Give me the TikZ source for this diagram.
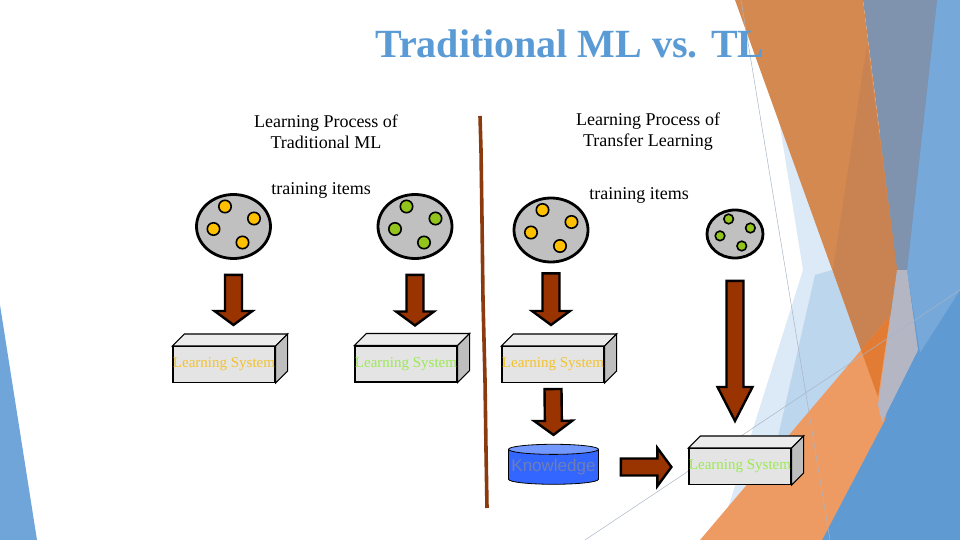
\documentclass[tikz,border=0pt]{standalone}
\usepackage{fontspec}
\setmainfont{Liberation Serif}
\setsansfont{Liberation Sans}
\usetikzlibrary{shapes.geometric,calc,positioning}

\definecolor{titleblue}{HTML}{5B9BD5}
\definecolor{arrowbrown}{HTML}{993300}
\definecolor{platgray}{HTML}{C0C0C0}
\definecolor{yellowdot}{HTML}{FFC000}
\definecolor{greendot}{HTML}{92C41C}
\definecolor{boxfront}{HTML}{E4E4E4}
\definecolor{boxtop}{HTML}{ECECEC}
\definecolor{boxside}{HTML}{BEBEBE}
\definecolor{lsyellow}{HTML}{F2C22E}
\definecolor{lsgreen}{HTML}{9BEA52}
\definecolor{knowbody}{HTML}{3366FF}
\definecolor{knowtop}{HTML}{7399FF}
\definecolor{knowtext}{HTML}{6C7EB6}
\definecolor{divider}{HTML}{8B3A0E}
% slide background facets
\definecolor{facetblue}{HTML}{6FA5D8}
\definecolor{deepblue}{HTML}{5F9AD3}
\definecolor{skyblue}{HTML}{76A8D9}
\definecolor{grayblue}{HTML}{7F93AF}
\definecolor{graystrip}{HTML}{B4B6C4}
\definecolor{darkorange}{HTML}{D3894F}
\definecolor{darkerorange}{HTML}{C98251}
\definecolor{lightorange}{HTML}{EE9B63}
\definecolor{brightorange}{HTML}{E27B33}
\definecolor{paleblue}{HTML}{DCE9F6}
\definecolor{midblue}{HTML}{BCD6EE}
\definecolor{thinline}{HTML}{A9B4C4}

\tikzset{
  fat shaft/.store in=\fatshaft, fat head/.store in=\fathead, fat tip/.store in=\fattip,
  fat shaft=8.5pt, fat head=19pt, fat tip=14pt,
  fatarrow/.style={draw=black, line width=2.4pt, fill=arrowbrown, line join=miter,
    to path={
      ($(\tikztostart)!\fatshaft!90:(\tikztotarget)$)
      -- ($($(\tikztotarget)!\fattip!(\tikztostart)$)!\fatshaft!-90:(\tikztostart)$)
      -- ($($(\tikztotarget)!\fattip!(\tikztostart)$)!\fathead!-90:(\tikztostart)$)
      -- (\tikztotarget)
      -- ($($(\tikztotarget)!\fattip!(\tikztostart)$)!\fathead!90:(\tikztostart)$)
      -- ($($(\tikztotarget)!\fattip!(\tikztostart)$)!\fatshaft!90:(\tikztostart)$)
      -- ($(\tikztostart)!\fatshaft!-90:(\tikztotarget)$)
      -- cycle}},
}

\begin{document}
\begin{tikzpicture}[x=1pt, y=-1pt,
  platter/.style={ellipse, draw=black, line width=2.8pt, fill=platgray, inner sep=0pt,
    minimum width=74pt, minimum height=64pt},
  dot/.style={draw=black, line width=1.6pt},
  lsbox/.style={draw=black, line width=1.1pt, fill=boxfront, inner sep=0pt,
    minimum width=101pt, minimum height=36pt, font=\fontsize{15}{15}\selectfont},
  heading/.style={align=center, font=\fontsize{18}{21}\selectfont},
  facet/.style={line width=1.1pt, draw=black}]
\useasboundingbox (0,0) rectangle (960,540);

% background facets
\fill[facetblue] (0,305) -- (37,540) -- (0,540) -- cycle;
\fill[paleblue] (779,120) -- (803,270) -- (718,540) -- (878,397) -- cycle;
\fill[midblue] (815,275) -- (832,270) -- (863,355) -- (775,450) -- cycle;
\fill[deepblue] (880,0) -- (960,0) -- (960,540) -- (815,540) -- (880,420) -- cycle;
\fill[skyblue] (937,0) -- (960,0) -- (960,290) -- (920,353) -- (907,270) -- cycle;
\fill[grayblue] (863,0) -- (937,0) -- (907,270) -- (897,270) -- cycle;
\fill[darkorange] (735,0) -- (863,0) -- (897,270) -- (878,397) -- cycle;
\fill[darkerorange] (867,45) -- (897,270) -- (878,397) -- (833,270) -- cycle;
\fill[lightorange] (700,540) -- (822,540) -- (885,420) -- (910,300) -- (895,310) -- cycle;
\fill[brightorange] (861,350) -- (890,316) -- (878,397) -- cycle;
\fill[graystrip] (897,270) -- (907,270) -- (918,350) -- (882,422) -- (878,405) -- cycle;
\draw[thinline, line width=0.5pt] (741,0) -- (830,540);
\draw[thinline, line width=0.5pt] (585,540) -- (960,290);

% title and headings
\node[font=\bfseries\fontsize{40}{40}\selectfont, text=titleblue] (title) at (570,44) {Traditional ML vs. TL};
\node[heading] (headML) at (326,132) {Learning Process of\\Traditional ML};
\node[heading] (headTL) at (648,132) {Learning Process of\\Transfer Learning};
\node[heading] (itemsML) at (321,190) {training items};
\node[heading] (itemsTL) at (639,195) {training items};

% divider
\draw[divider, line width=3.6pt] (480,116) -- (481,150) -- (482,220) -- (483,300)
  -- (485,380) -- (486,450) -- (487,508);

% training items
\node[platter] (plat1) at (233.5,226.5) {};
\node[platter] (plat2) at (415,226.5) {};
\node[platter] (plat3) at (551,230) {};
\node[platter, minimum width=56pt, minimum height=48pt] (plat4) at (735,234) {};

\foreach \dx/\dy in {-8.5/-20,20.5/-8,-20/2.5,9/16} {
  \draw[dot, fill=yellowdot] ($(plat1)+(\dx,\dy)$) circle (6.2pt);
  \draw[dot, fill=greendot] ($(plat2)+(\dx,\dy)$) circle (6.2pt);
  \draw[dot, fill=yellowdot] ($(plat3)+(\dx,\dy)$) circle (6.2pt);
  \draw[dot, fill=greendot] ($(plat4)+0.75*(\dx,\dy)$) circle (4.8pt);
}

% learning systems
\node[lsbox, text=lsyellow] (ls1) at (224,364.5) {Learning System};
\node[lsbox, text=lsgreen] (ls2) at (406,364) {Learning System};
\node[lsbox, text=lsyellow] (ls3) at (553,364.5) {Learning System};
\node[lsbox, text=lsgreen] (ls4) at (740,466.5) {Learning System};
\foreach \b in {ls1,ls2,ls3,ls4} {
  \draw[facet, fill=boxtop] (\b.north west) -- ++(12,-12) -- ([shift={(12,-12)}]\b.north east)
    -- (\b.north east) -- cycle;
  \draw[facet, fill=boxside] (\b.north east) -- ++(12,-12) -- ([shift={(12,-12)}]\b.south east)
    -- (\b.south east) -- cycle;
}

% knowledge
\node[cylinder, shape border rotate=90, draw=black, line width=0.8pt, aspect=0.12,
  cylinder uses custom fill, cylinder body fill=knowbody, cylinder end fill=knowtop,
  minimum width=90pt, minimum height=40pt, inner sep=0pt, text=knowtext,
  font=\sffamily\fontsize{17}{17}\selectfont] (kn) at (553.5,467) {Knowledge};

% arrows
\draw[fatarrow] ([yshift=-15pt]plat1.south) to ([yshift=21pt]plat1.south |- ls1.north);
\draw[fatarrow] ([yshift=-15pt]plat2.south) to ([yshift=20pt]plat2.south |- ls2.north);
\draw[fatarrow] ([yshift=-10pt]plat3.south) to ([yshift=21pt]plat3.south |- ls3.north);
\draw[fatarrow] ([yshift=-6pt]ls3.south) to ([yshift=9pt]kn.north);
\draw[fatarrow, fat head=17.5pt, fat tip=34pt] ([yshift=-21.5pt]plat4.south)
  to ([yshift=27pt]plat4.south |- ls4.north);
\draw[fatarrow] ([xshift=22pt]kn.east) to ([xshift=-17pt]kn.east -| ls4.west);
\end{tikzpicture}
\end{document}
